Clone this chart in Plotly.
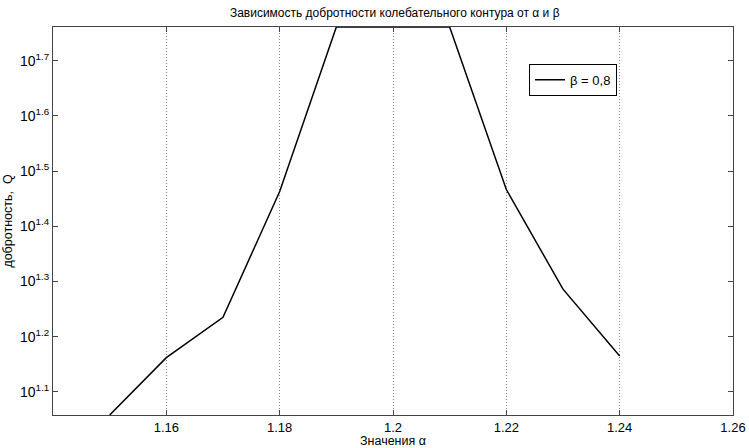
import numpy as np
import plotly.graph_objects as go

# quality factor Q versus alpha for beta = 0,8
alpha = [1.15, 1.16, 1.17, 1.18, 1.19, 1.20, 1.21, 1.22, 1.23, 1.24]
q_values = [11.43, 14.52, 17.18, 29.04, 57.68, 57.68, 57.68, 29.28, 19.32, 14.62]

x_ticks = [1.16, 1.18, 1.2, 1.22, 1.24, 1.26]
x_ticklabels = ["1.16", "1.18", "1.2", "1.22", "1.24", "1.26"]
y_exponents = [1.1, 1.2, 1.3, 1.4, 1.5, 1.6, 1.7]
y_ticklabels = ["10<sup>%s</sup>" % e for e in y_exponents]

font = "Liberation Sans, Arial, Helvetica, sans-serif"

fig = go.Figure()
fig.add_trace(go.Scatter(
    x=alpha, y=q_values, mode="lines", name="β = 0,8",
    line=dict(color="black", width=1.5),
))

fig.update_layout(
    width=749, height=448,
    margin=dict(l=53, r=16, t=27, b=33, autoexpand=False),
    paper_bgcolor="white", plot_bgcolor="white",
    font=dict(family=font, size=13, color="black"),
    title=dict(text="Зависимость добротности колебательного контура от α и β",
               x=0.527, xanchor="center", y=0.972, yanchor="middle",
               font=dict(size=12)),
    showlegend=True,
    legend=dict(x=0.7, y=0.905, xanchor="left", yanchor="top",
                bgcolor="white", bordercolor="black", borderwidth=1,
                font=dict(size=13), tracegroupgap=0,
                itemwidth=30),
)

fig.update_xaxes(
    range=[1.14, 1.26], tickvals=x_ticks, ticktext=x_ticklabels,
    automargin=False,
    showline=True, linecolor="#444", linewidth=1, mirror="ticks",
    ticks="inside", ticklen=5, tickcolor="#444",
    showgrid=True, gridcolor="#888", griddash="1px,2px", gridwidth=1,
    zeroline=False,
    title=dict(text="Значения α", standoff=1, font=dict(size=12.5)),
    tickfont=dict(size=13),
)

fig.update_yaxes(
    type="log",
    range=[float(np.log10(min(q_values))), float(np.log10(max(q_values)))],
    tickvals=[10 ** e for e in y_exponents], ticktext=y_ticklabels,
    automargin=False,
    showline=True, linecolor="#444", linewidth=1, mirror="ticks",
    ticks="inside", ticklen=5, tickcolor="#444",
    showgrid=False, zeroline=False,
    title=dict(text="добротность,  Q", standoff=4, font=dict(size=12.5)),
    tickfont=dict(size=14),
)

fig.write_html("out.html")
